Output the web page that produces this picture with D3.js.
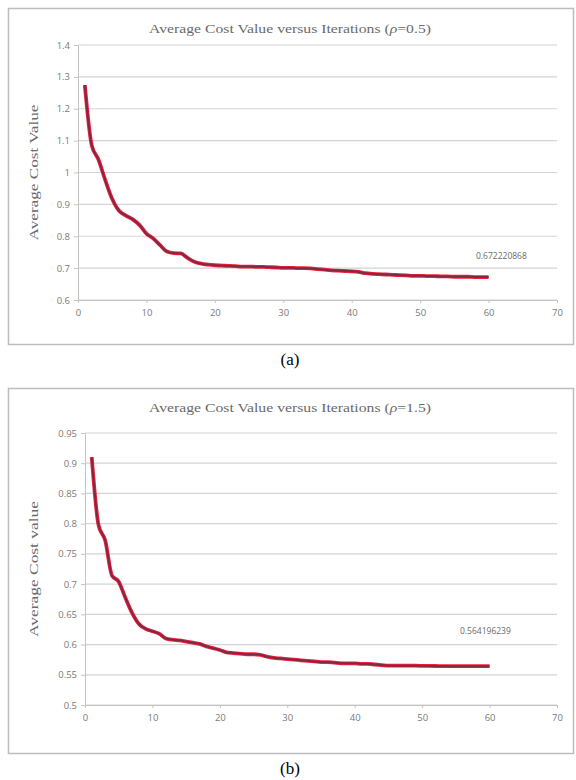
<!DOCTYPE html>
<html>
<head>
<meta charset="utf-8">
<script src="https://cdn.jsdelivr.net/npm/d3@7"></script>
<style>
  body { margin: 0; background: #fff; }
  svg { display: block; }
</style>
</head>
<body>
<div id="chart"></div>
<script>
const iterations = d3.range(1, 61);

const costA = [1.274, 1.086, 1.04, 0.975, 0.917, 0.88, 0.865, 0.853, 0.835, 0.808,
    0.793, 0.772, 0.752, 0.747, 0.746, 0.732, 0.72, 0.714, 0.711, 0.709,
    0.708, 0.707, 0.706, 0.705, 0.705, 0.704, 0.704, 0.703, 0.702, 0.701,
    0.701, 0.700, 0.700, 0.699, 0.697, 0.695, 0.693, 0.692, 0.691, 0.690,
    0.688, 0.684, 0.682, 0.681, 0.680, 0.679, 0.678, 0.677, 0.676, 0.676,
    0.675, 0.675, 0.674, 0.674, 0.673, 0.673, 0.673, 0.672, 0.672, 0.672];

const costB = [0.910, 0.798, 0.772, 0.714, 0.704, 0.677, 0.652, 0.634, 0.626, 0.622,
    0.618, 0.610, 0.608, 0.607, 0.605, 0.603, 0.601, 0.597, 0.594, 0.591,
    0.587, 0.586, 0.585, 0.584, 0.584, 0.583, 0.580, 0.578, 0.577, 0.576,
    0.575, 0.574, 0.573, 0.572, 0.571, 0.571, 0.570, 0.569, 0.569, 0.569,
    0.568, 0.568, 0.567, 0.566, 0.565, 0.565, 0.565, 0.565, 0.565, 0.5648,
    0.5646, 0.5645, 0.5644, 0.5643, 0.5643, 0.5642, 0.5642, 0.5642, 0.5642, 0.5642];

const xTicks = [0, 10, 20, 30, 40, 50, 60, 70];
const yTicksA = [0.6, 0.7, 0.8, 0.9, 1, 1.1, 1.2, 1.3, 1.4];
const yTicksB = [0.5, 0.55, 0.6, 0.65, 0.7, 0.75, 0.8, 0.85, 0.9, 0.95];

const panels = [
    {
        values: costA, yTicks: yTicksA, rho: "0.5", yLabel: "Average Cost Value",
        last: "0.672220868", caption: "(a)",
        frame: { top: 8, bottom: 344 }, plot: { left: 78, right: 557, top: 45, bottom: 300 },
        titleY: 33, lastPos: [476, 259]
    },
    {
        values: costB, yTicks: yTicksB, rho: "1.5", yLabel: "Average Cost value",
        last: "0.564196239", caption: "(b)",
        frame: { top: 388, bottom: 753 }, plot: { left: 85, right: 557, top: 433, bottom: 705 },
        titleY: 412, lastPos: [460, 634]
    }
];

const W = 576, H = 780;
const svg = d3.select("#chart").append("svg")
    .attr("width", W)
    .attr("height", H);

const sansFont = "'Open Sans', 'Liberation Sans', sans-serif";
const serifFont = "'Liberation Serif', 'DejaVu Serif', serif";

panels.forEach(p => {
    const g = svg.append("g");

    // outer chart frame
    g.append("rect")
        .attr("x", 8.5).attr("y", p.frame.top + 0.5)
        .attr("width", 565).attr("height", p.frame.bottom - p.frame.top)
        .attr("fill", "#fff")
        .attr("stroke", "#bdbdbd")
        .attr("stroke-width", 1.5);

    const x = d3.scaleLinear().domain([0, 70]).range([p.plot.left, p.plot.right]);
    const y = d3.scaleLinear().domain(d3.extent(p.yTicks)).range([p.plot.bottom, p.plot.top]);

    // gridlines
    g.append("g")
        .selectAll("line")
        .data(p.yTicks)
        .enter()
        .append("line")
        .attr("x1", p.plot.left).attr("x2", p.plot.right)
        .attr("y1", d => y(d)).attr("y2", d => y(d))
        .attr("stroke", "#d4d4d4")
        .attr("stroke-width", 1.2);

    const yAxis = g.append("g")
        .attr("transform", `translate(${p.plot.left},0)`)
        .call(d3.axisLeft(y).tickValues(p.yTicks).tickSize(4).tickPadding(4)
            .tickFormat(d => String(d)));
    yAxis.select(".domain").attr("stroke", "#c4c4c4");
    yAxis.selectAll(".tick line").attr("stroke", "#c4c4c4");
    yAxis.selectAll("text").attr("fill", "#7a7a7a")
        .style("font-family", sansFont).style("font-size", "9.5px");

    const xAxis = g.append("g")
        .attr("transform", `translate(0,${p.plot.bottom})`)
        .call(d3.axisBottom(x).tickValues(xTicks).tickSize(3).tickPadding(6));
    xAxis.select(".domain").attr("stroke", "#c4c4c4");
    xAxis.selectAll(".tick line").attr("stroke", "#c4c4c4");
    xAxis.selectAll("text").attr("fill", "#7a7a7a")
        .style("font-family", sansFont).style("font-size", "9.5px");

    // title
    const title = g.append("text")
        .attr("x", 290).attr("y", p.titleY)
        .attr("text-anchor", "middle")
        .attr("textLength", 282)
        .attr("lengthAdjust", "spacingAndGlyphs")
        .attr("fill", "#6a6a6a")
        .style("font-family", serifFont)
        .style("font-size", "13px");
    title.append("tspan").text("Average Cost Value versus Iterations (");
    title.append("tspan").style("font-style", "italic").text("\u03c1");
    title.append("tspan").text("=" + p.rho + ")");

    // y-axis label
    g.append("text")
        .attr("transform", `translate(38,${(p.plot.top + p.plot.bottom) / 2}) rotate(-90)`)
        .attr("text-anchor", "middle")
        .attr("textLength", 136)
        .attr("lengthAdjust", "spacingAndGlyphs")
        .attr("fill", "#6a6a6a")
        .style("font-family", serifFont)
        .style("font-size", "13px")
        .text(p.yLabel);

    // line: red halo with a darker core
    const line = d3.line()
        .x((d, i) => x(iterations[i]))
        .y(d => y(d))
        .curve(d3.curveMonotoneX);

    g.append("path")
        .datum(p.values)
        .attr("d", line)
        .attr("fill", "none")
        .attr("stroke", "#f0203e")
        .attr("stroke-width", 3.8)
        .attr("stroke-linejoin", "round");
    g.append("path")
        .datum(p.values)
        .attr("d", line)
        .attr("fill", "none")
        .attr("stroke", "#7e2a42")
        .attr("stroke-width", 2)
        .attr("stroke-linejoin", "round");

    // final value annotation
    g.append("text")
        .attr("x", p.lastPos[0]).attr("y", p.lastPos[1])
        .attr("fill", "#6a6a6a")
        .style("font-family", sansFont)
        .style("font-size", "8.5px")
        .text(p.last);

    // caption
    g.append("text")
        .attr("x", 290).attr("y", p.frame.bottom + 21)
        .attr("text-anchor", "middle")
        .attr("fill", "#000")
        .style("font-family", "'Liberation Serif', serif")
        .style("font-size", "17px")
        .text(p.caption);
});
</script>
</body>
</html>
